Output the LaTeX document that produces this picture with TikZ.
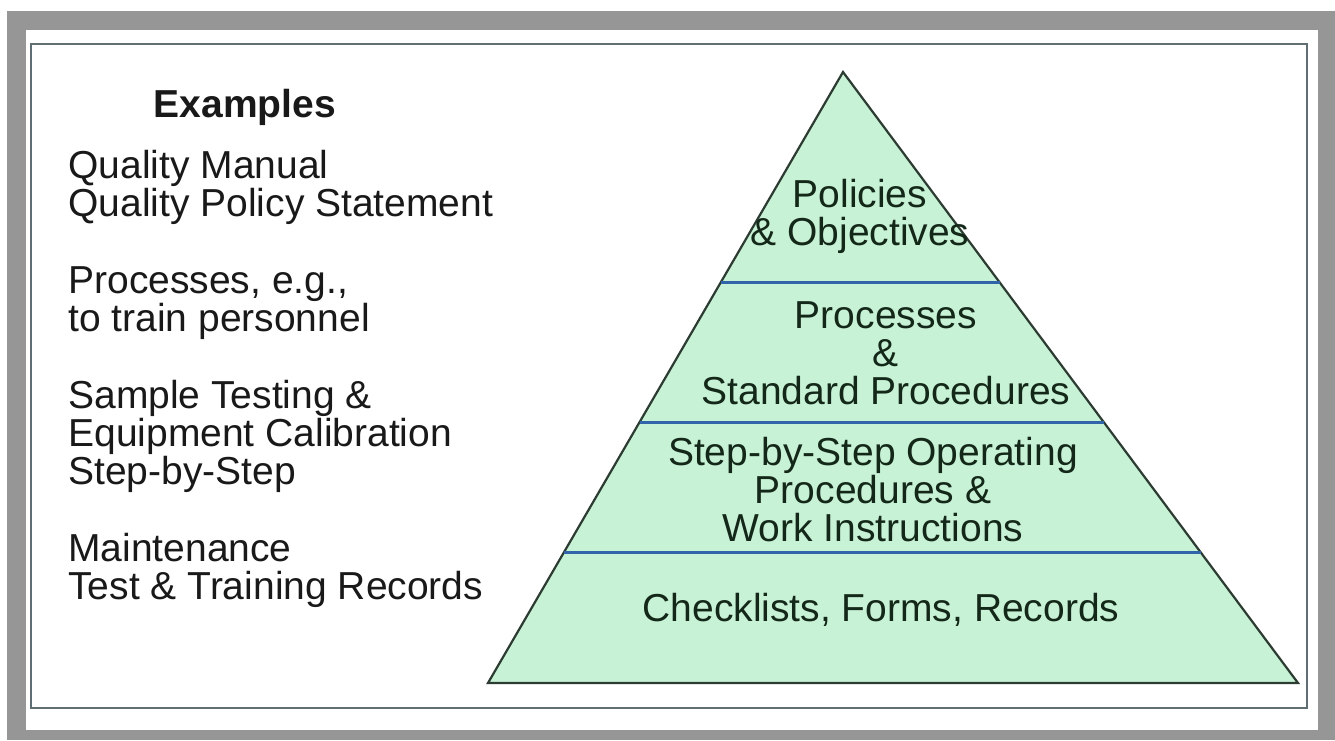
\documentclass[tikz,border=0pt]{standalone}
\usepackage{fontspec}
\setmainfont{Liberation Sans}
\usetikzlibrary{calc}
\definecolor{pyrgreen}{RGB}{200,242,214}
\definecolor{pyrline}{RGB}{50,100,170}
\definecolor{pyredge}{RGB}{45,60,50}
\definecolor{framegray}{RGB}{150,150,150}
\definecolor{boxedge}{RGB}{95,110,115}
\definecolor{txtgray}{RGB}{25,25,25}
\definecolor{txtgreen}{RGB}{20,40,25}
\newcommand{\lblfont}{\fontsize{19.5}{19}\selectfont}
\tikzset{
    exlbl/.style={anchor=west, align=left, text=txtgray, font=\lblfont, inner sep=0pt},
    pyrlbl/.style={align=center, text=txtgreen, font=\lblfont, inner sep=0pt},
    divider/.style={pyrline, line width=1.4pt},
}

\begin{document}
\begin{tikzpicture}[x=0.5pt, y=-0.5pt]
    \useasboundingbox (0,0) rectangle (1335,740);
    % Frame
    \fill[white] (0,0) rectangle (1335,740);
    \fill[framegray] (7,11) rectangle (1335,740);
    \fill[white] (26,30) rectangle (1318,730);
    \draw[boxedge, line width=1.3pt] (31,44) rectangle (1307,708);

    % Pyramid
    \coordinate (apex) at (843,72);
    \coordinate (bl)   at (488,683);
    \coordinate (br)   at (1298,683);
    \draw[pyredge, fill=pyrgreen, line width=1.1pt] (apex) -- (br) -- (bl) -- cycle;
    \foreach \t in {0.345,0.573,0.787}
        \draw[divider] ($(apex)!\t!(bl)$) -- ($(apex)!\t!(br)$);

    % Layer labels
    \node[pyrlbl] (pol)  at (860,216) {Policies\\\& Objectives};
    \node[pyrlbl] (proc) at (886,353) {Processes\\\&\\Standard Procedures};
    \node[pyrlbl] (sop)  at (873,490) {Step-by-Step Operating\\Procedures \&\\Work Instructions};
    \node[pyrlbl] (chk)  at (881,610) {Checklists, Forms, Records};

    % Examples column
    \node[text=txtgray, font=\lblfont\bfseries, inner sep=0pt] (ex) at (245,107) {Examples};
    \node[exlbl] (exqm)   at (68,187) {Quality Manual\\Quality Policy Statement};
    \node[exlbl] (expr)   at (68,303) {Processes, e.g.,\\to train personnel};
    \node[exlbl] (exst)   at (68,436) {Sample Testing \&\\Equipment Calibration\\Step-by-Step};
    \node[exlbl] (exrec)  at (68,570) {Maintenance\\Test \& Training Records};
\end{tikzpicture}
\end{document}
